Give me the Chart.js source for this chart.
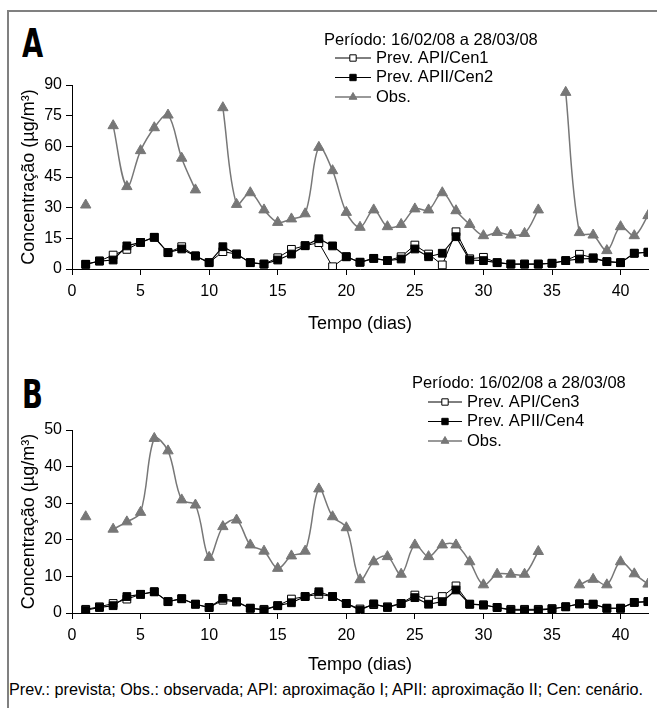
<!DOCTYPE html>
<html>
<head>
<meta charset="utf-8">
<script src="https://cdn.jsdelivr.net/npm/chart.js@4"></script>
<style>
  body { margin: 0; background: #fff; width: 657px; height: 708px; overflow: hidden; position: relative; font-family: "Liberation Sans", Arial, sans-serif; }
  #frame { position: absolute; left: 7px; top: 10px; width: 660px; height: 710px; border-left: 2px solid #808080; border-top: 2px solid #808080; }
  .panel { position: absolute; left: 10px; width: 647px; }
  .letter { position: absolute; font-family: "Liberation Sans Narrow", "DejaVu Sans Condensed", sans-serif; font-weight: bold; font-size: 32px; line-height: 1; transform: scale(0.95, 1.2); transform-origin: 0 0; }
  #note { position: absolute; left: 9px; top: 680px; font-size: 16.2px; color: #000; white-space: nowrap; }
</style>
</head>
<body>
<div id="frame"></div>
<div class="letter" style="left:22px; top:25px;">A</div>
<div class="letter" style="left:22px; top:376px;">B</div>
<canvas id="chartA" class="panel" style="top:12px" width="647" height="335"></canvas>
<canvas id="chartB" class="panel" style="top:355px" width="647" height="325"></canvas>
<div id="note">Prev.: prevista; Obs.: observada; API: aproximação I; APII: aproximação II; Cen: cenário.</div>
<script>
const days = [1, 2, 3, 4, 5, 6, 7, 8, 9, 10, 11, 12, 13, 14, 15, 16, 17, 18, 19, 20, 21,
  22, 23, 24, 25, 26, 27, 28, 29, 30, 31, 32, 33, 34, 35, 36, 37, 38, 39, 40, 41, 42];
const xTicks = [0, 5, 10, 15, 20, 25, 30, 35, 40];

// painel A
const apiA = [2.3, 3.9, 6.8, 9.6, 13, 15.5, 8, 10.9, 6.4, 3.1, 8.5, 7.3, 3.1, 2.4, 5.5, 9.6, 11.4, 12.9, 1.1, 6, 3.3,
  5.2, 4.1, 6, 11.7, 7.3, 2, 18.2, 5, 5.7, 3.1, 2.4, 2.4, 2.4, 2.8, 4.1, 7.2, 5.5, 3.6, 3.1, 7.7, 8.2];
const apiiA = [2.3, 3.9, 4.4, 11.3, 13, 15.5, 8, 9.8, 6.4, 3.1, 10.9, 7.3, 3.1, 2.4, 4.4, 7.3, 11.4, 14.8, 11.3, 6, 3.3,
  5.2, 4.1, 4.9, 9.8, 6, 7.7, 15.8, 4.4, 4.1, 3.1, 2.4, 2.4, 2.4, 2.8, 4.1, 4.9, 5.2, 3.6, 3.1, 7.7, 8.2];
const obsA = [31.3, null, 70.1, 40.3, 57.9, 69.1, 75.3, 54.2, 38.7, null, 78.9, 31.6, 37.3, 28.9, 22.8, 24.5, 27, 59.5, 48.1, 27.7, 20.4,
  28.9, 20.7, 21.8, 29.4, 28.9, 37.3, 28.5, 21.8, 16.3, 17.9, 16.6, 17.4, 28.9, null, 86.4, 17.8, 16.6, 9, 20.7, 16.3, 26.1];
const yTicksA = [0, 15, 30, 45, 60, 75, 90];

// painel B
const apiB = [1, 1.7, 2.6, 3.8, 5.1, 5.8, 3.1, 3.9, 2.4, 1.5, 3.5, 3, 1.3, 1, 2, 3.8, 4.5, 5.1, 4.5, 2.6, 1.1,
  2.3, 1.7, 2.6, 4.9, 3.5, 4.5, 7.4, 2.4, 2.2, 1.5, 1, 1, 1, 1.2, 1.7, 2.5, 2.4, 1.3, 1.3, 2.9, 3.1];
const apiiB = [0.8, 1.5, 2, 4.5, 5.1, 5.8, 3.1, 3.9, 2.4, 1.5, 4, 3.1, 1.3, 0.8, 2, 2.8, 4.5, 5.8, 4.5, 2.6, 0.8,
  2.5, 1.5, 2.6, 4.2, 2.4, 3.1, 6.3, 2.4, 2.2, 1.5, 0.8, 0.8, 0.8, 1.1, 1.7, 2.5, 2.4, 1.3, 1.3, 2.9, 3.1];
const obsB = [26.3, null, 22.9, 24.9, 27.5, 47.7, 44.3, 30.9, 29.5, 15.2, 23.6, 25.4, 18.6, 16.9, 12.2, 15.6, 16.9, 33.9, 26.3, 23.3, 9.1,
  14, 15.4, 10.6, 18.6, 15.4, 18.6, 18.6, 14, 7.7, 10.6, 10.6, 10.6, 16.8, null, null, 7.7, 9.2, 7.7, 14, 10.7, 7.9];
const yTicksB = [0, 10, 20, 30, 40, 50];

const periodo = 'Período: 16/02/08 a 28/03/08';
const font = "'Liberation Sans', Arial, sans-serif";
const obsColor = '#777777';

function toPoints(vals) {
  return vals.map((v, i) => ({ x: days[i], y: v }));
}

// legenda desenhada dentro do gráfico, com linha + marcador
const innerLegend = {
  id: 'innerLegend',
  afterDraw(chart, args, opts) {
    const ctx = chart.ctx;
    ctx.save();
    ctx.font = '16.5px ' + font;
    ctx.fillStyle = '#000';
    ctx.textBaseline = 'middle';
    ctx.fillText(opts.title, opts.titleX, opts.titleY);
    chart.data.datasets.forEach((ds, i) => {
      const y = opts.y + i * opts.gap;
      const x0 = opts.x;
      ctx.strokeStyle = ds.borderColor;
      ctx.lineWidth = ds.borderWidth;
      ctx.beginPath();
      ctx.moveTo(x0, y);
      ctx.lineTo(x0 + opts.len, y);
      ctx.stroke();
      ctx.fillStyle = ds.pointBackgroundColor;
      ctx.strokeStyle = ds.pointBorderColor;
      ctx.lineWidth = 1;
      Chart.helpers.drawPoint(ctx, { pointStyle: ds.pointStyle, radius: 4.5, borderWidth: 1 }, x0 + opts.len / 2, y);
      ctx.fillStyle = '#000';
      ctx.fillText(ds.label, x0 + opts.len + 5, y);
    });
    ctx.restore();
  }
};

function makeChart(id, api, apii, obs, names, yTicks, yMax, top, xBox, titleBottom, legend) {
  new Chart(document.getElementById(id), {
    type: 'line',
    data: {
      datasets: [
        {
          label: names[0], data: toPoints(api), order: 1,
          borderColor: '#000', borderWidth: 1, tension: 0,
          pointStyle: 'rect', pointRadius: 5.5,
          pointBackgroundColor: '#fff', pointBorderColor: '#000', pointBorderWidth: 1
        },
        {
          label: names[1], data: toPoints(apii), order: 0,
          borderColor: '#000', borderWidth: 1.2, tension: 0,
          pointStyle: 'rect', pointRadius: 5.5,
          pointBackgroundColor: '#000', pointBorderColor: '#000', pointBorderWidth: 1
        },
        {
          label: 'Obs.', data: toPoints(obs), order: 2,
          borderColor: obsColor, borderWidth: 1.5, tension: 0.35,
          pointStyle: 'triangle', pointRadius: 6,
          pointBackgroundColor: obsColor, pointBorderColor: obsColor, pointBorderWidth: 1
        }
      ]
    },
    options: {
      responsive: false,
      animation: false,
      spanGaps: false,
      layout: { padding: { top: top, left: 0, right: 9, bottom: 0 } },
      plugins: {
        legend: { display: false },
        tooltip: { enabled: false },
        innerLegend: legend
      },
      scales: {
        x: {
          type: 'linear', min: 0, max: 42,
          afterBuildTicks: s => { s.ticks = xTicks.map(v => ({ value: v })); },
          afterFit: s => { s.height = xBox; },
          border: { color: '#000', width: 1 },
          grid: { drawOnChartArea: false, color: '#000', tickLength: 6 },
          ticks: { color: '#000', font: { family: font, size: 16 }, padding: 7, maxRotation: 0 },
          title: { display: true, text: 'Tempo (dias)', color: '#000', font: { family: font, size: 18 }, padding: { top: 0, bottom: titleBottom } }
        },
        y: {
          min: 0, max: yMax,
          afterBuildTicks: s => { s.ticks = yTicks.map(v => ({ value: v })); },
          afterFit: s => { s.width = 62; },
          border: { color: '#000', width: 1 },
          grid: { drawOnChartArea: false, color: '#000', tickLength: 6 },
          ticks: { color: '#000', font: { family: font, size: 16 }, padding: 4 },
          title: { display: true, text: 'Concentração (µg/m³)', color: '#000', font: { family: font, size: 18 }, padding: { top: 8, bottom: 0 } }
        }
      }
    },
    plugins: [innerLegend]
  });
}

makeChart('chartA', apiA, apiiA, obsA, ['Prev. API/Cen1', 'Prev. APII/Cen2'], yTicksA, 90, 73, 78, 12,
  { title: periodo, titleX: 314, titleY: 28, x: 325, y: 46, gap: 19.5, len: 36 });
makeChart('chartB', apiB, apiiB, obsB, ['Prev. API/Cen3', 'Prev. APII/Cen4'], yTicksB, 50, 75, 67, 4,
  { title: periodo, titleX: 402, titleY: 28, x: 418, y: 47, gap: 19.5, len: 34 });
</script>
</body>
</html>
